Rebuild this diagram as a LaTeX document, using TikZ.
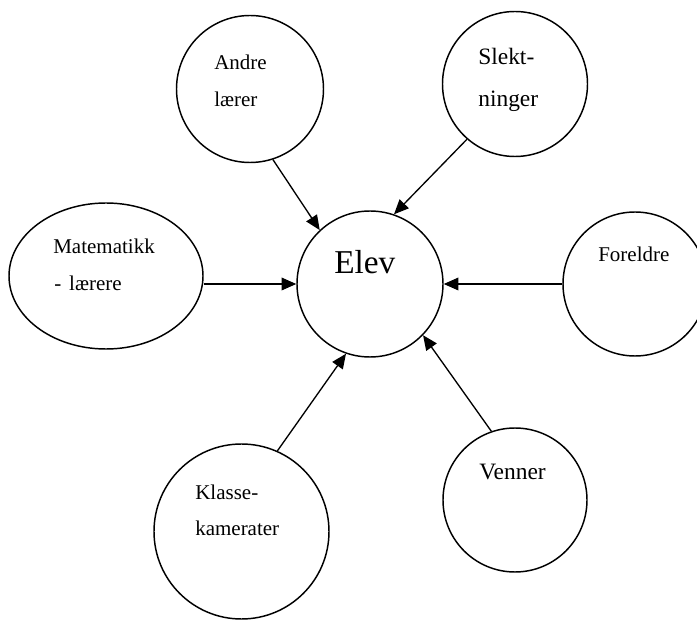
\documentclass[tikz,border=0pt]{standalone}
\usepackage{fontspec}
\setmainfont{Liberation Serif}
\usetikzlibrary{arrows.meta, shapes.geometric}

\begin{document}
\begin{tikzpicture}[x=0.75pt, y=-0.75pt,
    rund/.style={circle, draw, line width=1.1pt, inner sep=0pt},
    navn/.style={anchor=base west, inner sep=0pt, font=\fontsize{15.75}{18}\selectfont},
    navnstor/.style={anchor=base west, inner sep=0pt, font=\fontsize{17.6}{20}\selectfont},
    pil/.style={-{Triangle[length=11pt, width=9.5pt]}, line width=1pt}]
  \useasboundingbox (0,0) rectangle (697,620);

  % eleven i midten
  \node[rund, minimum size=109.5pt] (elev) at (370,284) {};
  \node[anchor=base west, inner sep=0pt, font=\fontsize{25}{28}\selectfont] (elevtekst) at (334,274) {Elev};

  % rundt eleven
  \node[rund, minimum size=110.25pt] (andre) at (250,89) {};
  \node[navn] (andreA) at (214,70) {Andre};
  \node[navn] (andreB) at (214,107) {lærer};

  \node[rund, minimum size=108.75pt] (slekt) at (515,84) {};
  \node[navnstor] (slektA) at (478,65) {Slekt-};
  \node[navnstor] (slektB) at (478,107) {ninger};

  \node[ellipse, draw, line width=1.1pt, inner sep=0pt,
        minimum width=145.5pt, minimum height=109.5pt] (mat) at (106,276) {};
  \node[navn] (matA) at (53,254) {Matematikk};
  \node[navn] (matB) at (54,291) {-\hspace{6pt}lærere};

  \node[rund, minimum size=108pt] (foreldre) at (635,284) {};
  \node[navn] (foreldretekst) at (598,262) {Foreldre};

  \node[rund, minimum size=108pt] (venner) at (515,500) {};
  \node[navnstor] (vennertekst) at (479,480) {Venner};

  \node[rund, minimum size=131.25pt] (klasse) at (241.5,531.5) {};
  \node[navn] (klasseA) at (195,499) {Klasse-};
  \node[navn] (klasseB) at (195,536) {kamerater};

  % pilene inn mot eleven
  \draw[pil] (andre.-72) -- (elev.133);
  \draw[pil] (slekt.-131) -- (elev.71);
  \draw[pil] (mat.east |- elev.west) -- (elev.west);
  \draw[pil] (foreldre.west) -- (elev.east);
  \draw[pil] (klasse.66) -- (elev.-109);
  \draw[pil] (venner.109) -- (elev.-44);
\end{tikzpicture}
\end{document}
